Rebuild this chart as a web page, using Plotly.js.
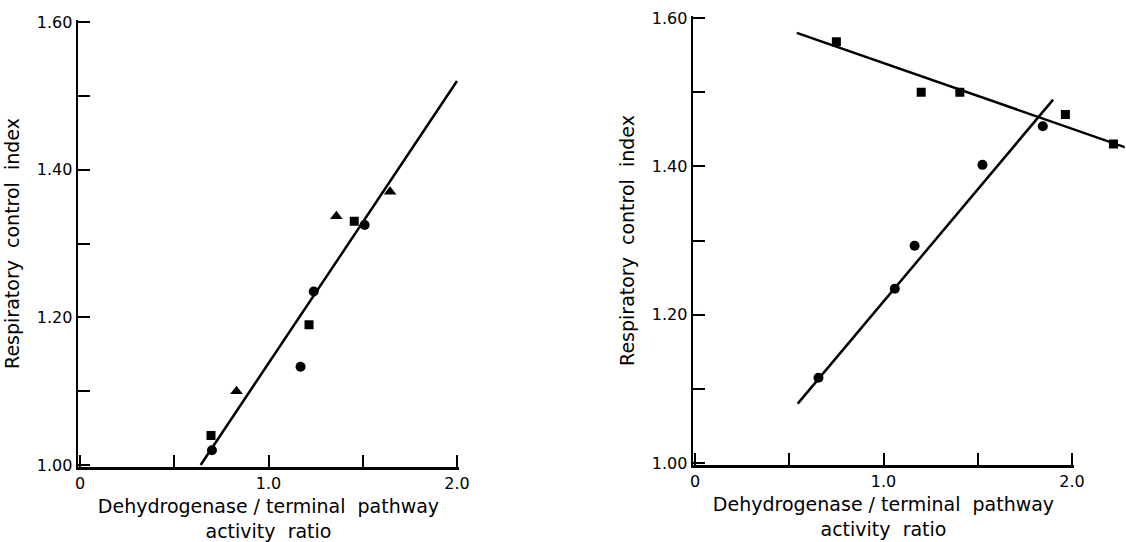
<!DOCTYPE html>
<html>
<head>
<meta charset="utf-8">
<script src="https://cdn.plot.ly/plotly-3.0.1.min.js"></script>
<style>html,body{margin:0;padding:0;background:#fff}#chart{width:1126px;height:542px}</style>
</head>
<body>
<div id="chart"></div>
<script>
// ---- Left panel data ----
const leftCircleX = [0.70, 1.17, 1.24, 1.51];
const leftCircleY = [1.02, 1.133, 1.235, 1.325];
const leftSquareX = [0.695, 1.215, 1.455];
const leftSquareY = [1.04, 1.19, 1.33];
const leftTriangleX = [0.83, 1.36, 1.645];
const leftTriangleY = [1.10, 1.337, 1.37];
const leftFitX = [0.64, 2.0];
const leftFitY = [1.0, 1.52];

// ---- Right panel data ----
const rightSquareX = [0.75, 1.20, 1.405, 1.965, 2.22];
const rightSquareY = [1.568, 1.50, 1.50, 1.47, 1.43];
const rightCircleX = [0.655, 1.06, 1.165, 1.525, 1.845];
const rightCircleY = [1.115, 1.235, 1.293, 1.402, 1.454];
const rightSquareFitX = [0.54, 2.29];
const rightSquareFitY = [1.58, 1.425];
const rightCircleFitX = [0.545, 1.90];
const rightCircleFitY = [1.08, 1.49];

// ---- Tick labels / titles ----
const xTickVals = [0, 0.5, 1, 1.5, 2];
const xTickText = ['0', '', '1.0', '', '2.0'];
const yTickVals = [1.0, 1.1, 1.2, 1.3, 1.4, 1.5, 1.6];
const yTickText = ['1.00', '', '1.20', '', '1.40', '', '1.60'];
const yTitle = 'Respiratory  control  index';
const xTitleLeft = 'Dehydrogenase / terminal  pathway<br>activity  ratio';
const xTitleRight = 'Dehydrogenase / terminal  pathway<br>activity  ratio\u00A0\u00A0\u00A0\u00A0\u00A0\u00A0\u00A0\u00A0\u00A0\u00A0\u00A0\u00A0\u00A0\u00A0\u00A0\u00A0';

const FONT = 'DejaVu Sans, sans-serif';
const W = 1126, H = 542;
const PX_X = 188.5;          // pixels per x unit (both panels)
const PAD_X = 0.01, PAD_Y = 0.003;

function mk(x, y, sym, size, xa, ya) {
  return {x: x, y: y, type: 'scatter', mode: 'markers', xaxis: xa, yaxis: ya,
    marker: {symbol: sym, size: size, color: '#000'}, hoverinfo: 'x+y'};
}
function ln(x, y, xa, ya) {
  return {x: x, y: y, type: 'scatter', mode: 'lines', xaxis: xa, yaxis: ya,
    line: {color: '#000', width: 2.5}, hoverinfo: 'skip'};
}
function empty(xa, ya) {
  return {x: [], y: [], type: 'scatter', mode: 'markers', xaxis: xa, yaxis: ya, showlegend: false};
}

const data = [
  ln(leftFitX, leftFitY, 'x', 'y'),
  mk(leftCircleX, leftCircleY, 'circle', 10, 'x', 'y'),
  mk(leftSquareX, leftSquareY, 'square', 9, 'x', 'y'),
  mk(leftTriangleX, leftTriangleY, 'triangle-up', 11, 'x', 'y'),
  ln(rightSquareFitX, rightSquareFitY, 'x2', 'y2'),
  ln(rightCircleFitX, rightCircleFitY, 'x2', 'y2'),
  mk(rightSquareX, rightSquareY, 'square', 9, 'x2', 'y2'),
  mk(rightCircleX, rightCircleY, 'circle', 10, 'x2', 'y2'),
  empty('x3', 'y2'),
  empty('x4', 'y'),
  empty('x', 'y3'),
  empty('x5', 'y2'),
  empty('x2', 'y4')
];

function xDomain(x0px, x1px) { return [(x0px - PAD_X * PX_X) / W, (x1px + PAD_X * PX_X) / W]; }
function yDomain(bottomPx, topPx) {
  const pad = PAD_Y * (bottomPx - topPx) / 0.6;
  return [1 - (bottomPx + pad) / H, 1 - (topPx - pad) / H];
}
const tickStyle = {ticks: 'inside', ticklen: 12, tickwidth: 2, tickcolor: '#000'};

function xAxis(x0px, x1px, anchor, title) {
  return Object.assign({
    domain: xDomain(x0px, x1px), range: [-PAD_X, 2.0 + PAD_X],
    anchor: anchor, showline: true, linewidth: 2.5, linecolor: '#000',
    showgrid: false, zeroline: false, tickmode: 'array', tickvals: xTickVals, ticktext: xTickText,
    tickfont: {family: FONT, size: 16, color: '#000'},
    title: {text: title, font: {family: FONT, size: 19, color: '#000'}, standoff: 8},
    fixedrange: true
  }, tickStyle);
}
function yAxis(bottomPx, topPx, anchor) {
  return Object.assign({
    domain: yDomain(bottomPx, topPx), range: [1.0 - PAD_Y, 1.6 + PAD_Y],
    anchor: anchor, showline: true, linewidth: 2.5, linecolor: '#000',
    showgrid: false, zeroline: false, tickmode: 'array', tickvals: yTickVals, ticktext: yTickText,
    tickfont: {family: FONT, size: 16, color: '#000'},
    title: {text: yTitle, font: {family: FONT, size: 19, color: '#000'}, standoff: 12},
    fixedrange: true
  }, tickStyle);
}
// unlabeled duplicate tick axes (so every tick mark is drawn)
function xTickOnly(x0px, x1px, anchor, over) {
  return Object.assign({
    domain: xDomain(x0px, x1px), range: [-PAD_X, 2.0 + PAD_X], anchor: anchor, overlaying: over,
    showline: false, showgrid: false, zeroline: false, showticklabels: false,
    tickmode: 'array', tickvals: xTickVals, fixedrange: true
  }, tickStyle);
}
function yTickOnly(bottomPx, topPx, anchor, over) {
  return Object.assign({
    domain: yDomain(bottomPx, topPx), range: [1.0 - PAD_Y, 1.6 + PAD_Y], anchor: anchor, overlaying: over,
    showline: false, showgrid: false, zeroline: false, showticklabels: false,
    tickmode: 'array', tickvals: yTickVals, fixedrange: true
  }, tickStyle);
}

const layout = {
  width: W, height: H, margin: {l: 0, r: 0, t: 0, b: 0},
  paper_bgcolor: '#fff', plot_bgcolor: 'rgba(0,0,0,0)', showlegend: false,
  font: {family: FONT, color: '#000'},
  xaxis: xAxis(80, 457, 'y', xTitleLeft),
  yaxis: yAxis(465, 22, 'x'),
  xaxis2: {domain: [(695 - PAD_X * PX_X) / W, (695 + 2.28 * PX_X) / W], range: [-PAD_X, 2.28], anchor: 'y2',
    visible: false, fixedrange: true},
  yaxis2: yAxis(463, 18, 'x2'),
  xaxis3: xAxis(695, 1072, 'y2', xTitleRight),
  xaxis4: xTickOnly(80, 457, 'y', 'x'),
  yaxis3: yTickOnly(465, 22, 'x', 'y'),
  xaxis5: xTickOnly(695, 1072, 'y2', 'x3'),
  yaxis4: yTickOnly(463, 18, 'x2', 'y2')
};

Plotly.newPlot('chart', data, layout, {displayModeBar: false, staticPlot: true});
</script>
</body>
</html>
